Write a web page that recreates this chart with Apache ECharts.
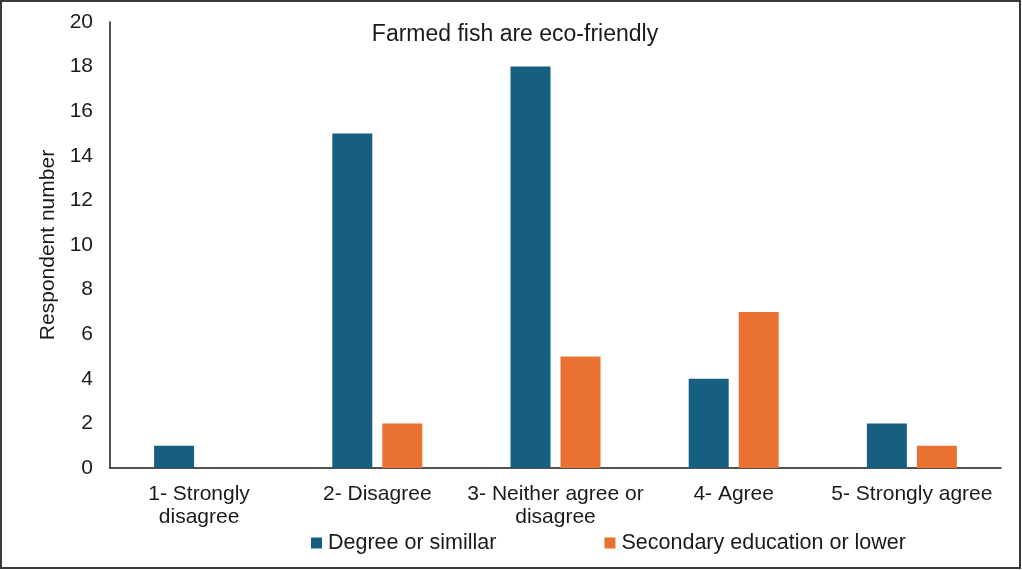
<!DOCTYPE html>
<html>
<head>
<meta charset="utf-8">
<script src="https://cdn.jsdelivr.net/npm/echarts@6/dist/echarts.min.js"></script>
<style>
html,body{margin:0;padding:0;background:#fff;}
#c{width:1022px;height:570px;}
</style>
</head>
<body>
<div id="c"></div>
<script>
const categories = ['1- Strongly\ndisagree', '2- Disagree', '3- Neither agree or\ndisagree', '4- Agree', '5- Strongly agree'];
const degreeValues = [1, 15, 18, 4, 2];
const secondaryValues = [0, 2, 5, 7, 1];
const seriesNames = ['Degree or simillar', 'Secondary education or lower'];
const titleText = 'Farmed fish are eco-friendly';
const yAxisName = 'Respondent number';

const font = 'Arial, "Liberation Sans", sans-serif';
const chart = echarts.init(document.getElementById('c'));
chart.setOption({
  animation: false,
  textStyle: { fontFamily: font },
  graphic: [{
    type: 'rect',
    shape: { x: 1, y: 1, width: 1019, height: 567 },
    style: { fill: 'none', stroke: '#3a3a3a', lineWidth: 2 },
    silent: true
  }],
  title: {
    text: titleText,
    left: 510,
    top: 18,
    textAlign: 'center',
    textStyle: { fontFamily: font, fontSize: 23, fontWeight: 'normal', color: '#1a1a1a' }
  },
  legend: {
    left: 311,
    top: 532,
    padding: 0,
    itemWidth: 11,
    itemHeight: 11,
    itemGap: 108,
    icon: 'rect',
    textStyle: { fontFamily: font, fontSize: 21.5, color: '#1a1a1a', padding: [0, 0, 0, 1] },
    data: seriesNames
  },
  grid: { left: 110, right: 21, top: 22, bottom: 102 },
  xAxis: {
    type: 'category',
    data: categories,
    axisLine: { lineStyle: { color: '#1a1a1a', width: 1.5 } },
    axisTick: { show: false },
    axisLabel: { fontFamily: font, fontSize: 21, color: '#1a1a1a', margin: 15, lineHeight: 23, interval: 0 }
  },
  yAxis: {
    type: 'value',
    min: 0,
    max: 20,
    interval: 2,
    name: yAxisName,
    nameLocation: 'middle',
    nameGap: 49,
    nameTextStyle: { fontFamily: font, fontSize: 21, color: '#1a1a1a' },
    axisLine: { show: true, lineStyle: { color: '#1a1a1a', width: 1.5 } },
    axisTick: { show: false },
    splitLine: { show: false },
    axisLabel: { fontFamily: font, fontSize: 21, color: '#1a1a1a', margin: 17 }
  },
  series: [
    { name: seriesNames[0], type: 'bar', data: degreeValues, barWidth: 40, barGap: '25%', itemStyle: { color: '#175F80' } },
    { name: seriesNames[1], type: 'bar', data: secondaryValues, barWidth: 40, itemStyle: { color: '#E97132' } }
  ]
});
</script>
</body>
</html>
